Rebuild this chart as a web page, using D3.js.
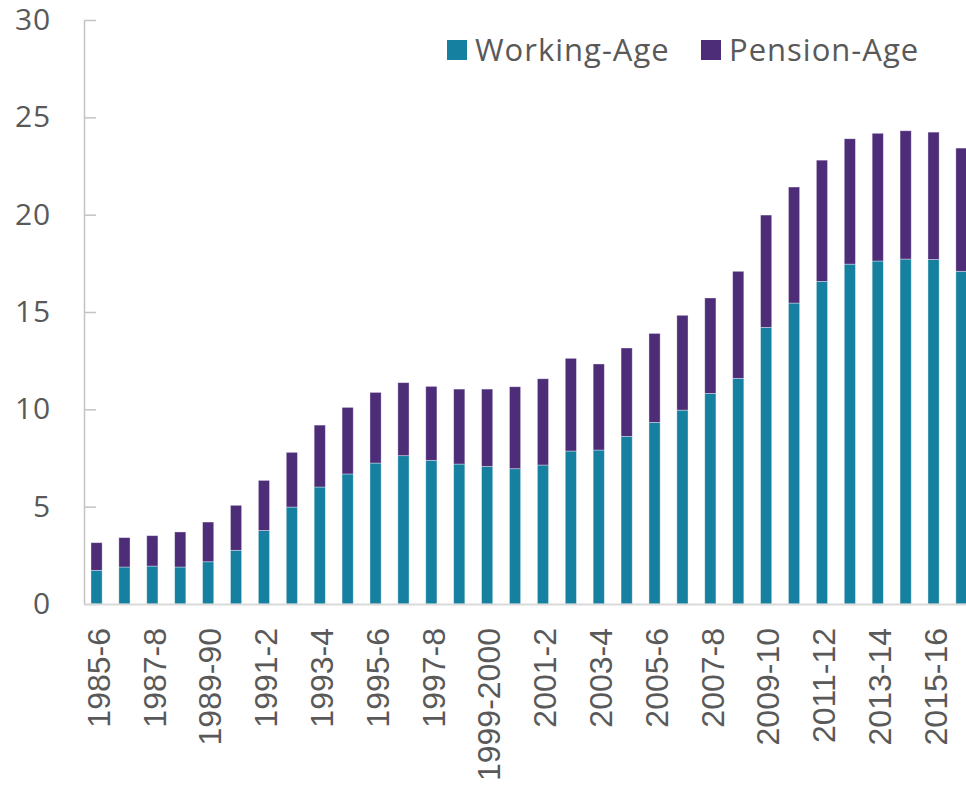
<!DOCTYPE html>
<html>
<head>
<meta charset="utf-8">
<script src="https://cdn.jsdelivr.net/npm/d3@7"></script>
<style>
  html, body { margin: 0; padding: 0; background: #fff; overflow: hidden; }
  svg { display: block; }
</style>
</head>
<body>
<svg id="chart" width="966" height="789"></svg>
<script>
// Financial years shown on the x axis
const years = [
  "1985-6", "1986-7", "1987-8", "1988-9", "1989-90", "1990-1", "1991-2", "1992-3",
  "1993-4", "1994-5", "1995-6", "1996-7", "1997-8", "1998-9", "1999-2000", "2000-1",
  "2001-2", "2002-3", "2003-4", "2004-5", "2005-6", "2006-7", "2007-8", "2008-9",
  "2009-10", "2010-11", "2011-12", "2012-13", "2013-14", "2014-15", "2015-16", "2016-17"
];

// Working-age component of each bar
const workingAge = [
  1.73, 1.90, 1.95, 1.90, 2.17, 2.76, 3.78, 4.98,
  6.01, 6.68, 7.24, 7.62, 7.38, 7.19, 7.07, 6.95,
  7.14, 7.86, 7.91, 8.61, 9.33, 9.96, 10.82, 11.59,
  14.21, 15.46, 16.57, 17.46, 17.62, 17.72, 17.70, 17.09
];

// Pension-age component stacked on top
const pensionAge = [
  1.42, 1.51, 1.56, 1.80, 2.04, 2.31, 2.57, 2.81,
  3.18, 3.42, 3.63, 3.75, 3.80, 3.85, 3.97, 4.21,
  4.43, 4.76, 4.42, 4.54, 4.57, 4.87, 4.90, 5.50,
  5.77, 5.96, 6.23, 6.44, 6.56, 6.59, 6.54, 6.33
];

const seriesNames = ["Working-Age", "Pension-Age"];
const seriesColors = ["#1580a0", "#4d2c78"];
const yTicks = [0, 5, 10, 15, 20, 25, 30];

const svg = d3.select("#chart");

const x = d3.scaleBand()
  .domain(years)
  .range([84, 974])
  .paddingInner(0.6)
  .paddingOuter(0.25);

const y = d3.scaleLinear()
  .domain([0, 30])
  .range([604, 20]);

// Stack the two series
const rows = years.map((yr, i) => ({ year: yr, "Working-Age": workingAge[i], "Pension-Age": pensionAge[i] }));
const stacked = d3.stack().keys(seriesNames)(rows);

const color = d3.scaleOrdinal().domain(seriesNames).range(seriesColors);

svg.append("g")
  .selectAll("g")
  .data(stacked)
  .join("g")
    .attr("fill", d => color(d.key))
  .selectAll("rect")
  .data(d => d)
  .join("rect")
    .attr("x", d => x(d.data.year))
    .attr("y", d => y(d[1]))
    .attr("width", x.bandwidth())
    .attr("height", d => y(d[0]) - y(d[1]))
    .attr("stroke", "#ffffff")
    .attr("stroke-opacity", 0.45)
    .attr("stroke-width", 0.8);

// Y axis: line on the left, short ticks pointing into the plot
const yAxis = svg.append("g")
  .attr("transform", "translate(84,0)")
  .call(d3.axisLeft(y).tickValues(yTicks).tickSizeInner(-12).tickSizeOuter(0).tickPadding(33));

yAxis.select(".domain").attr("stroke", "#c3c3c3").attr("stroke-width", 1.5);
yAxis.selectAll(".tick line").attr("stroke", "#c3c3c3").attr("stroke-width", 1.5);
yAxis.selectAll(".tick text")
  .attr("fill", "#595959")
  .style("font-family", "'Open Sans', sans-serif")
  .style("font-size", "30px")
  .style("letter-spacing", "0.8px");

// X axis baseline
svg.append("line")
  .attr("x1", 84).attr("x2", 966)
  .attr("y1", 604.5).attr("y2", 604.5)
  .attr("stroke", "#d9d9d9")
  .attr("stroke-width", 2);

// Every other year label, rotated
const xLabels = years.filter((d, i) => i % 2 === 0);
svg.append("g")
  .selectAll("text")
  .data(xLabels)
  .join("text")
    .attr("transform", d => `translate(${x(d) + x.bandwidth() / 2 + 2},628) rotate(-90)`)
    .attr("text-anchor", "end")
    .attr("dy", "0.35em")
    .attr("fill", "#595959")
    .style("font-family", "'Liberation Sans', Arial, sans-serif")
    .style("font-size", "32px")
    .text(d => d);

// Legend
const legendItems = [
  { name: seriesNames[0], color: seriesColors[0], x: 447 },
  { name: seriesNames[1], color: seriesColors[1], x: 701 }
];
const legend = svg.append("g")
  .selectAll("g")
  .data(legendItems)
  .join("g")
    .attr("transform", d => `translate(${d.x},40)`);

legend.append("rect")
  .attr("width", 20)
  .attr("height", 20)
  .attr("fill", d => d.color);

legend.append("text")
  .attr("x", 28)
  .attr("y", 20.5)
  .attr("fill", "#595959")
  .style("font-family", "'Open Sans', sans-serif")
  .style("font-size", "31px")
  .style("letter-spacing", "1px")
  .text(d => d.name);
</script>
</body>
</html>
